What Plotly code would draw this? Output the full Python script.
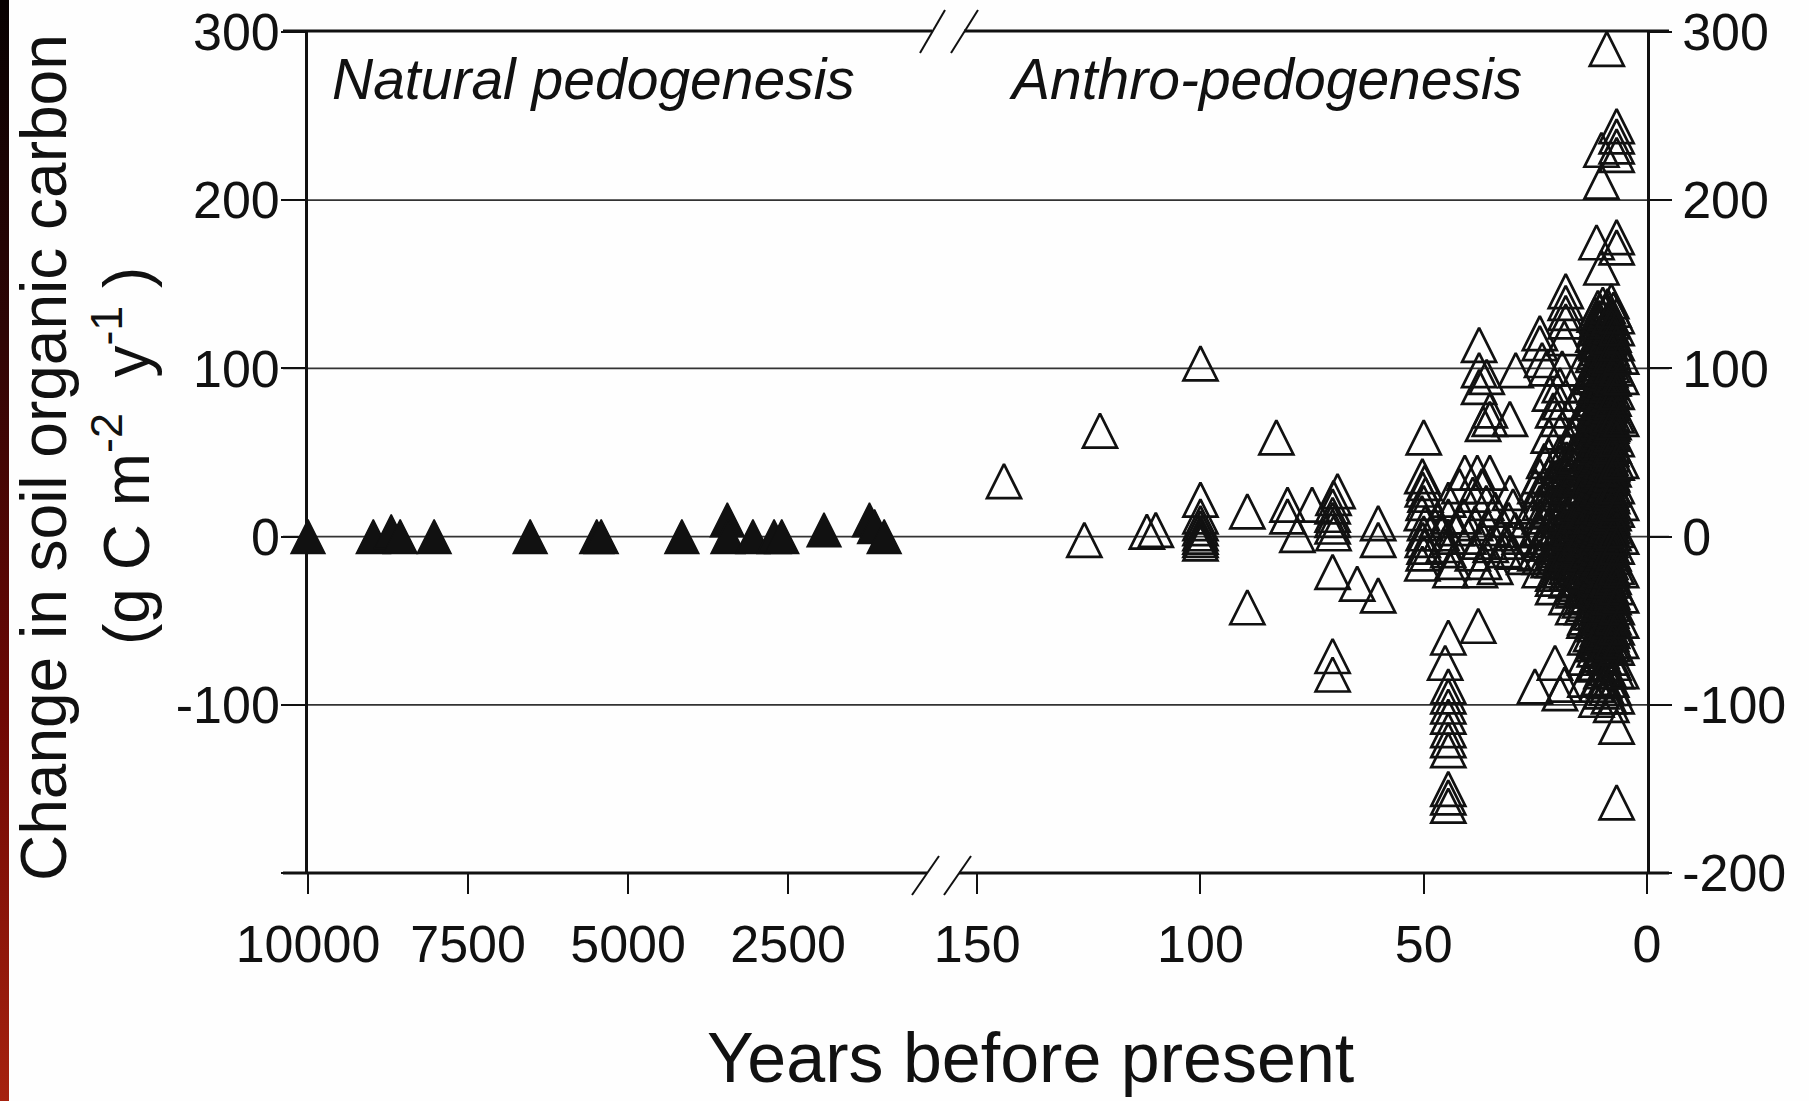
import base64
import plotly.graph_objects as go

# ---------------- data ----------------
# Natural pedogenesis (filled triangles), years before present / change (g C m-2 y-1)
natural_years = [10000, 8980, 8700, 8560, 8030, 6530, 5490, 5420, 4160, 3450, 3440,
                 3050, 2720, 2600, 1940, 1230, 1150, 1000]
natural_change = [0, 0, 3, 0, 0, 0, 0, 0, 0, 10, 0, 0, 0, 0, 4, 10, 6, 0]

# Anthro-pedogenesis (open triangles)
old_years = [144, 126, 122.5, 112, 110, 100, 100, 100, 100, 100, 100, 100, 100, 100,
             89.5, 89.5, 83, 80.5, 80.5, 78.3, 75, 69.3, 70.2, 70.4, 70.4, 70.4, 70.4,
             70.2, 70.4, 70.4, 70.4, 64.9, 60.2, 60.2, 60.2]
old_change = [33, -2, 63, 3, 4, 103, 22, 12, 8, 5, 2, 0, -2, -4,
              15, -42, 59, 19, 12, 1, 19, 27, 23, 18, 13, 10, 6,
              2, -21, -71, -82, -28, 8, -2, -35]

fifty_years = [50, 50.3, 49.8, 50.2, 49.6, 50, 50.4, 49.7, 50, 50.2, 49.8, 50, 50.3]
fifty_change = [59, 36, 32, 28, 25, 20, 14, 8, 2, -2, -6, -10, -16]

mid_years = [47, 46, 45.5, 44.5, 44.5, 44.5, 44.5, 44, 43.5, 42.8, 40.8, 38, 35.2, 37, 39,
             36, 34, 41, 38.5, 35.5, 33, 40, 37.5, 35, 32, 39, 36.5, 37.4, 34, 30.7, 30,
             31, 29.5, 30, 28.5, 31.5, 42, 27.5]
mid_change = [10, 2, -5, 22, 12, 0, -8, -20, -15, 5, 38, 38, 38, 30, 25,
              20, 16, 12, 8, 5, 2, 0, -3, -5, -8, -10, -15, -20, -18, 26, 18,
              10, 4, -9, 0, -3, 30, -12]

high_years = [37.6, 37.6, 35.9, 37.6, 35.2, 35.2, 36.7, 30.7, 29.4, 37.8]
high_change = [114, 99, 95, 89, 75, 70, 67, 70, 99, -53]

low_44_years = [44.5, 45.2, 44.5, 44.5, 44.5, 44.5, 44.5, 44.5, 44.5, 44.5, 44.5, 44.5]
low_44_change = [-60, -75, -89, -95, -101, -107, -115, -121, -127, -150, -155, -160]

recent_years = [23.5, 24, 24, 22.5, 21.7, 21, 22, 23, 25, 26, 24.5, 23, 25, 21.5, 20.5,
                19.5, 19.5, 20, 19.5, 18.2, 18.2, 18.2, 18.2, 18.5, 19, 19.5, 18.5, 20,
                19, 20.5, 19.5, 18, 21, 20.6, 25.1, 19.5, 18.5, 22, 17, 17.5]
recent_change = [105, 121, 115, 100, 85, 75, 60, 45, 30, 15, 5, -2, -10, 20, 35,
                 50, 62, 70, 80, 146, 139, 133, 128, 118, 100, 90, 40, 10,
                 0, -8, -15, -22, -25, -75, -89, -93, -88, 5, 25, 5]

# stacked columns (one year, several values)
col_24 = [36, 28, 20, 12, 4, -4, -12, -20]
col_22 = [48, 36, 26, 16, 6, -4, -14]
col_21 = [42, 34, 26, 18, 10, 2, -6, -14, -22, -30]
col_19_5 = [44, 30, 20, 12, 4, -4, -12, -20]
col_18 = [46, 38, 30, 22, 14, 6, -2, -10, -18, -26, -36]
col_17 = [60, 45, 30, 18, 5, -8, -20, -30]
col_16_5 = [50, 42, 34, 26, 18, 10, 2, -6, -14, -22, -32, -42]
col_16 = [80, 62, 48, 34, 20, 8, -4, -16, -28]
col_15 = [100, 85, 70, 55, 40, 25, 12, 0, -12, -25, -38]
col_14_5 = [70, 50, 35, 20, 8, -5, -18, -30, -42]
col_14 = [60, 52, 44, 36, 28, 20, 12, 4, -4, -12, -20, -30, -40, -50]
col_13_8 = [90, 75, 60, 45, 30, 15, 3, -10, -22, -35, -48, -60, -72, -85]
col_12_5 = [95, 80, 65, 50, 38, 25, 12, 2, -8, -20, -32, -45, -58]
col_12 = [120, 108, 98, 86, 74, 66, 56, 46, 36, 28, 18, 8, -2, -12, -24, -36, -50, -64, -76]
col_11_7 = [132, 124, 116, 110, 103, 96, 89, 82, 76, 70, 63, 57, 50, 44, 38, 32, 26, 19,
            13, 7, 1, -5, -11, -18, -25, -31, -38, -45, -52, -60, -67]
col_11_3 = [175, 128, 115, 105, 90, 75, 62, 48, 35, 22, 10, 0, -10, -22, -35, -48,
            -62, -75, -88, -97]
col_11 = [136, 127, 119, 112, 106, 99, 92, 85, 79, 72, 66, 60, 53, 47, 41, 35, 29, 22,
          16, 9, 3, -3, -9, -15, -21, -28, -34, -41, -48, -55, -63, -70]
col_10_8 = [130, 115, 100, 92, 80, 68, 58, 48, 40, 30, 20, 12, 4, -6, -16, -26, -36,
            -46, -58, -70, -84]
col_10_5 = [134, 125, 117, 109, 101, 94, 87, 80, 73, 67, 61, 55, 49, 43, 37, 31, 25, 18,
            12, 6, 0, -7, -13, -19, -26, -33, -40, -47, -54, -62]
col_10_2 = [230, 211, 160, 122, 110, 98, 84, 70, 56, 42, 30, 18, 6, -4, -16, -28,
            -40, -55, -68, -80, -92]
col_9_9 = [138, 130, 121, 113, 105, 98, 91, 84, 77, 70, 64, 58, 51, 45, 39, 33, 27, 20,
           14, 8, 2, -4, -10, -17, -23, -30, -37, -44, -51, -58, -66]
col_9_6 = [125, 112, 100, 90, 80, 66, 52, 40, 28, 16, 4, -8, -20, -32, -46, -60, -72, -86]
col_9_3 = [133, 124, 116, 108, 100, 93, 86, 79, 72, 66, 60, 54, 48, 42, 36, 30, 24, 17,
           11, 5, -1, -7, -14, -20, -27, -34, -41, -49, -57, -64]
col_9 = [290, 135, 120, 102, 88, 72, 58, 45, 32, 20, 8, -2, -14, -26, -38, -50,
         -64, -78, -90]
col_8_8 = [137, 128, 120, 111, 104, 97, 90, 83, 76, 69, 63, 56, 50, 44, 38, 31, 25, 19,
           13, 7, 0, -6, -12, -19, -26, -33, -40, -47, -55, -63]
col_8_5 = [130, 118, 106, 92, 76, 62, 48, 34, 20, 10, -2, -14, -26, -40, -52, -66, -80, -95]
col_8_2 = [132, 123, 115, 107, 99, 92, 85, 78, 71, 65, 59, 53, 47, 41, 35, 28, 22, 16,
           10, 4, -2, -8, -15, -22, -29, -36, -43, -50, -58, -66]
col_8 = [140, 125, 112, 96, 80, 66, 52, 38, 26, 14, 4, -8, -20, -32, -44, -58,
         -72, -85, -100]
col_7_8 = [128, 119, 110, 102, 94, 87, 80, 73, 67, 61, 55, 49, 43, 37, 30, 24, 18, 12,
           6, 0, -6, -12, -19, -26, -33, -40, -48, -56, -64]
col_7_5 = [135, 120, 108, 94, 82, 68, 54, 40, 28, 14, 2, -10, -24, -36, -48, -62, -75, -90]
col_6_8 = [244, 238, 232, 227, 178, 172, 131, 124, 115, 100, 86, 72, 58, 44, 30, 16,
           4, -6, -18, -30, -42, -54, -66, -80, -95, -113, -158]
col_5_8 = [107, 95, 70, 45, 20, 0, -20, -35, -50, -62, -80]

left_ticks = [10000, 7500, 5000, 2500]
right_ticks = [150, 100, 50, 0]
y_ticks = [-200, -100, 0, 100, 200, 300]
y_ticktext_left = ["", "-100", "0", "100", "200", "300"]
y_ticktext_right = ["-200", "-100", "0", "100", "200", "300"]

# ---------------- assemble ----------------
anthro_years, anthro_change = [], []
for ys, vs in [(old_years, old_change), (fifty_years, fifty_change),
               (mid_years, mid_change), (high_years, high_change),
               (low_44_years, low_44_change), (recent_years, recent_change)]:
    anthro_years += ys
    anthro_change += vs
for yr, vs in [(24, col_24), (22, col_22), (21, col_21), (19.5, col_19_5), (18, col_18),
               (17, col_17), (16.5, col_16_5), (16, col_16), (15, col_15),
               (14.5, col_14_5), (14, col_14), (13.8, col_13_8), (12.5, col_12_5),
               (12, col_12), (11.7, col_11_7), (11.3, col_11_3), (11, col_11),
               (10.8, col_10_8), (10.5, col_10_5), (10.2, col_10_2), (9.9, col_9_9),
               (9.6, col_9_6), (9.3, col_9_3), (9, col_9), (8.8, col_8_8),
               (8.5, col_8_5), (8.2, col_8_2), (8, col_8), (7.8, col_7_8),
               (7.5, col_7_5), (6.8, col_6_8), (5.8, col_5_8)]:
    anthro_years += [yr] * len(vs)
    anthro_change += vs

# ---------------- layout geometry (pixels) ----------------
W, H = 1809, 1101
L, R, T, B = 308, 1647, 32, 873


def px(x):
    return (x - L) / (R - L)


def py(y):
    return (B - y) / (B - T)


FONT = "Liberation Sans, Arial, sans-serif"
MS = 34

fig = go.Figure()
fig.add_trace(go.Scatter(
    x=natural_years, y=natural_change, mode="markers", xaxis="x", yaxis="y",
    marker=dict(symbol="arrow-down", angle=180, standoff=MS / 2, size=MS,
                color="#111111", line=dict(color="#111111", width=1.5)),
    cliponaxis=False, showlegend=False, hoverinfo="x+y"))
fig.add_trace(go.Scatter(
    x=anthro_years, y=anthro_change, mode="markers", xaxis="x2", yaxis="y2",
    marker=dict(symbol="arrow-down-open", angle=180, standoff=MS / 2, size=MS,
                color="#111111", line=dict(color="#111111", width=2.7)),
    cliponaxis=False, showlegend=False, hoverinfo="x+y"))

shapes = []
# horizontal grid lines spanning across the break
for v in [200, 100, 0, -100]:
    shapes.append(dict(type="line", xref="paper", yref="y", x0=px(283), x1=px(1669),
                       y0=v, y1=v, line=dict(color="#333333", width=1.8), layer="below"))
# top and bottom frame lines with break
frame = dict(color="#111111", width=2.8)
shapes += [
    dict(type="line", xref="paper", yref="paper", x0=px(283), x1=px(932), y0=py(31), y1=py(31), line=frame),
    dict(type="line", xref="paper", yref="paper", x0=px(964), x1=px(1669), y0=py(31), y1=py(31), line=frame),
    dict(type="line", xref="paper", yref="paper", x0=px(283), x1=px(927), y0=py(873), y1=py(873), line=frame),
    dict(type="line", xref="paper", yref="paper", x0=px(959), x1=px(1669), y0=py(873), y1=py(873), line=frame),
]
slash = dict(color="#111111", width=2)
for (x0, y0, x1, y1) in [(920, 53, 945, 10), (951, 53, 978, 10),
                         (912, 895, 939, 856), (944, 895, 971, 856)]:
    shapes.append(dict(type="line", xref="paper", yref="paper", x0=px(x0), y0=py(y0),
                       x1=px(x1), y1=py(y1), line=slash))

# stripe on the left edge (gradient)
svg = ('<svg xmlns="http://www.w3.org/2000/svg" width="10" height="1101" preserveAspectRatio="none">'
       '<defs><linearGradient id="g" x1="0" y1="0" x2="0" y2="1">'
       '<stop offset="0" stop-color="#080101"/><stop offset="0.3" stop-color="#2e0505"/>'
       '<stop offset="0.65" stop-color="#6e0804"/><stop offset="1" stop-color="#a6220f"/>'
       '</linearGradient></defs><rect width="10" height="1101" fill="url(#g)"/></svg>')
src = "data:image/svg+xml;base64," + base64.b64encode(svg.encode()).decode()

annotations = [
    dict(text="<i>Natural pedogenesis</i>", xref="paper", yref="paper", x=px(330), y=py(79),
         xanchor="left", yanchor="middle", showarrow=False, font=dict(family=FONT, size=57, color="#111")),
    dict(text="<i>Anthro-pedogenesis</i>", xref="paper", yref="paper", x=px(1007), y=py(79),
         xanchor="left", yanchor="middle", showarrow=False, font=dict(family=FONT, size=57, color="#111")),
    dict(text="Years before present", xref="paper", yref="paper", x=px(1030), y=py(1058),
         xanchor="center", yanchor="middle", showarrow=False, font=dict(family=FONT, size=70, color="#111")),
    dict(text="Change in soil organic carbon", xref="paper", yref="paper", x=px(44), y=py(458),
         xanchor="center", yanchor="middle", textangle=-90, showarrow=False,
         font=dict(family=FONT, size=64, color="#111")),
    dict(text="(g C m<sup>-2</sup>  y<sup>-1</sup> )", xref="paper", yref="paper", x=px(122), y=py(456),
         xanchor="center", yanchor="middle", textangle=-90, showarrow=False,
         font=dict(family=FONT, size=64, color="#111")),
]

tickfont = dict(family=FONT, size=52, color="#111")
xcommon = dict(ticks="outside", ticklen=20, tickwidth=1.8, tickcolor="#111", showgrid=False,
               zeroline=False, showline=False, tickfont=tickfont, automargin=False,
               ticklabelstandoff=6)
ycommon = dict(range=[-200, 300], tickvals=y_ticks, ticks="outside", tickwidth=1.8,
               tickcolor="#111", showline=True, linewidth=2.6, linecolor="#111",
               showgrid=False, zeroline=False, tickfont=tickfont, automargin=False)
fig.update_layout(
    width=W, height=H,
    margin=dict(l=L, r=W - R, t=T, b=H - B, pad=0, autoexpand=False),
    paper_bgcolor="#fefefe", plot_bgcolor="rgba(0,0,0,0)",
    showlegend=False,
    xaxis=dict(domain=[0, px(929)], range=[10000, 300], tickvals=left_ticks,
               ticktext=[str(t) for t in left_ticks], anchor="y", **xcommon),
    xaxis2=dict(domain=[px(962), 1], range=[153.4, 0], tickvals=right_ticks,
                ticktext=[str(t) for t in right_ticks], anchor="y2", **xcommon),
    yaxis=dict(ticktext=y_ticktext_left, ticklen=24, anchor="x", ticklabelstandoff=-9,
               **ycommon),
    yaxis2=dict(ticktext=y_ticktext_right, ticklen=22, overlaying="y", side="right",
                anchor="x2", **ycommon),
    shapes=shapes,
    annotations=annotations,
    images=[dict(source=src, xref="paper", yref="paper", x=px(0), y=py(0),
                 sizex=9 / (R - L), sizey=H / (B - T), xanchor="left", yanchor="top",
                 sizing="stretch", layer="above")],
)

fig.write_html("out.html")
